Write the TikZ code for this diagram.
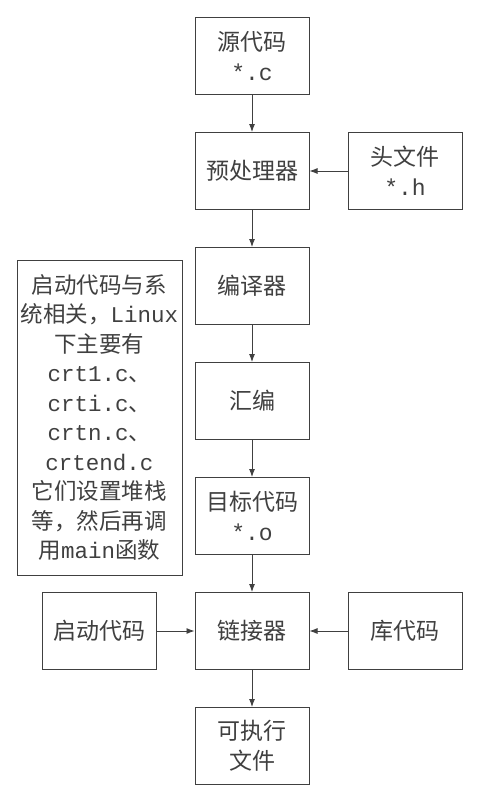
\documentclass[tikz,border=0pt]{standalone}
\usepackage{fontspec}
\setmainfont{Noto Sans CJK SC}
\newfontfamily\lat{Liberation Mono}
\usetikzlibrary{arrows.meta}
\begin{document}
\begin{tikzpicture}[x=1pt,y=-1pt,
 box/.style={draw=black!75, line width=1pt, minimum width=114pt, minimum height=77pt, inner sep=2pt, align=center, font=\fontsize{23}{30}\selectfont, text=black!75},
 arr/.style={draw=black!75, line width=0.9pt, -{Latex[length=8pt,width=6pt]}}]
\fill[white] (0,0) rectangle (484,800);
\useasboundingbox (0,0) rectangle (484,800);
\node[box] (src) at (252,56) {源代码\\{\lat *.c}};
\node[box] (pre) at (252,171) {预处理器};
\node[box] (hdr) at (405,171) {头文件\\{\lat *.h}};
\node[box] (cmp) at (252,286) {编译器};
\node[box] (asm) at (252,401) {汇编};
\node[box] (obj) at (252,516) {目标代码\\{\lat *.o}};
\node[box] (lnk) at (252,631) {链接器};
\node[box] (sta) at (99.5,631) {启动代码};
\node[box] (lib) at (405,631) {库代码};
\node[box] (exe) at (252,746) {可执行\\文件};
\node[box, minimum width=165pt, minimum height=315pt, inner sep=1pt, font=\fontsize{22.5}{29.5}\selectfont] (note) at (99.5,417.5)
 {启动代码与系\\统相关，{\lat Linux}\\下主要有\\{\lat crt1.c}、\\{\lat crti.c}、\\{\lat crtn.c}、\\{\lat crtend.c}\\它们设置堆栈\\等，然后再调\\用{\lat main}函数};
\draw[arr] (src) -- (pre);
\draw[arr] (hdr) -- (pre);
\draw[arr] (pre) -- (cmp);
\draw[arr] (cmp) -- (asm);
\draw[arr] (asm) -- (obj);
\draw[arr] (obj) -- (lnk);
\draw[arr] (sta) -- (lnk);
\draw[arr] (lib) -- (lnk);
\draw[arr] (lnk) -- (exe);
\end{tikzpicture}
\end{document}
